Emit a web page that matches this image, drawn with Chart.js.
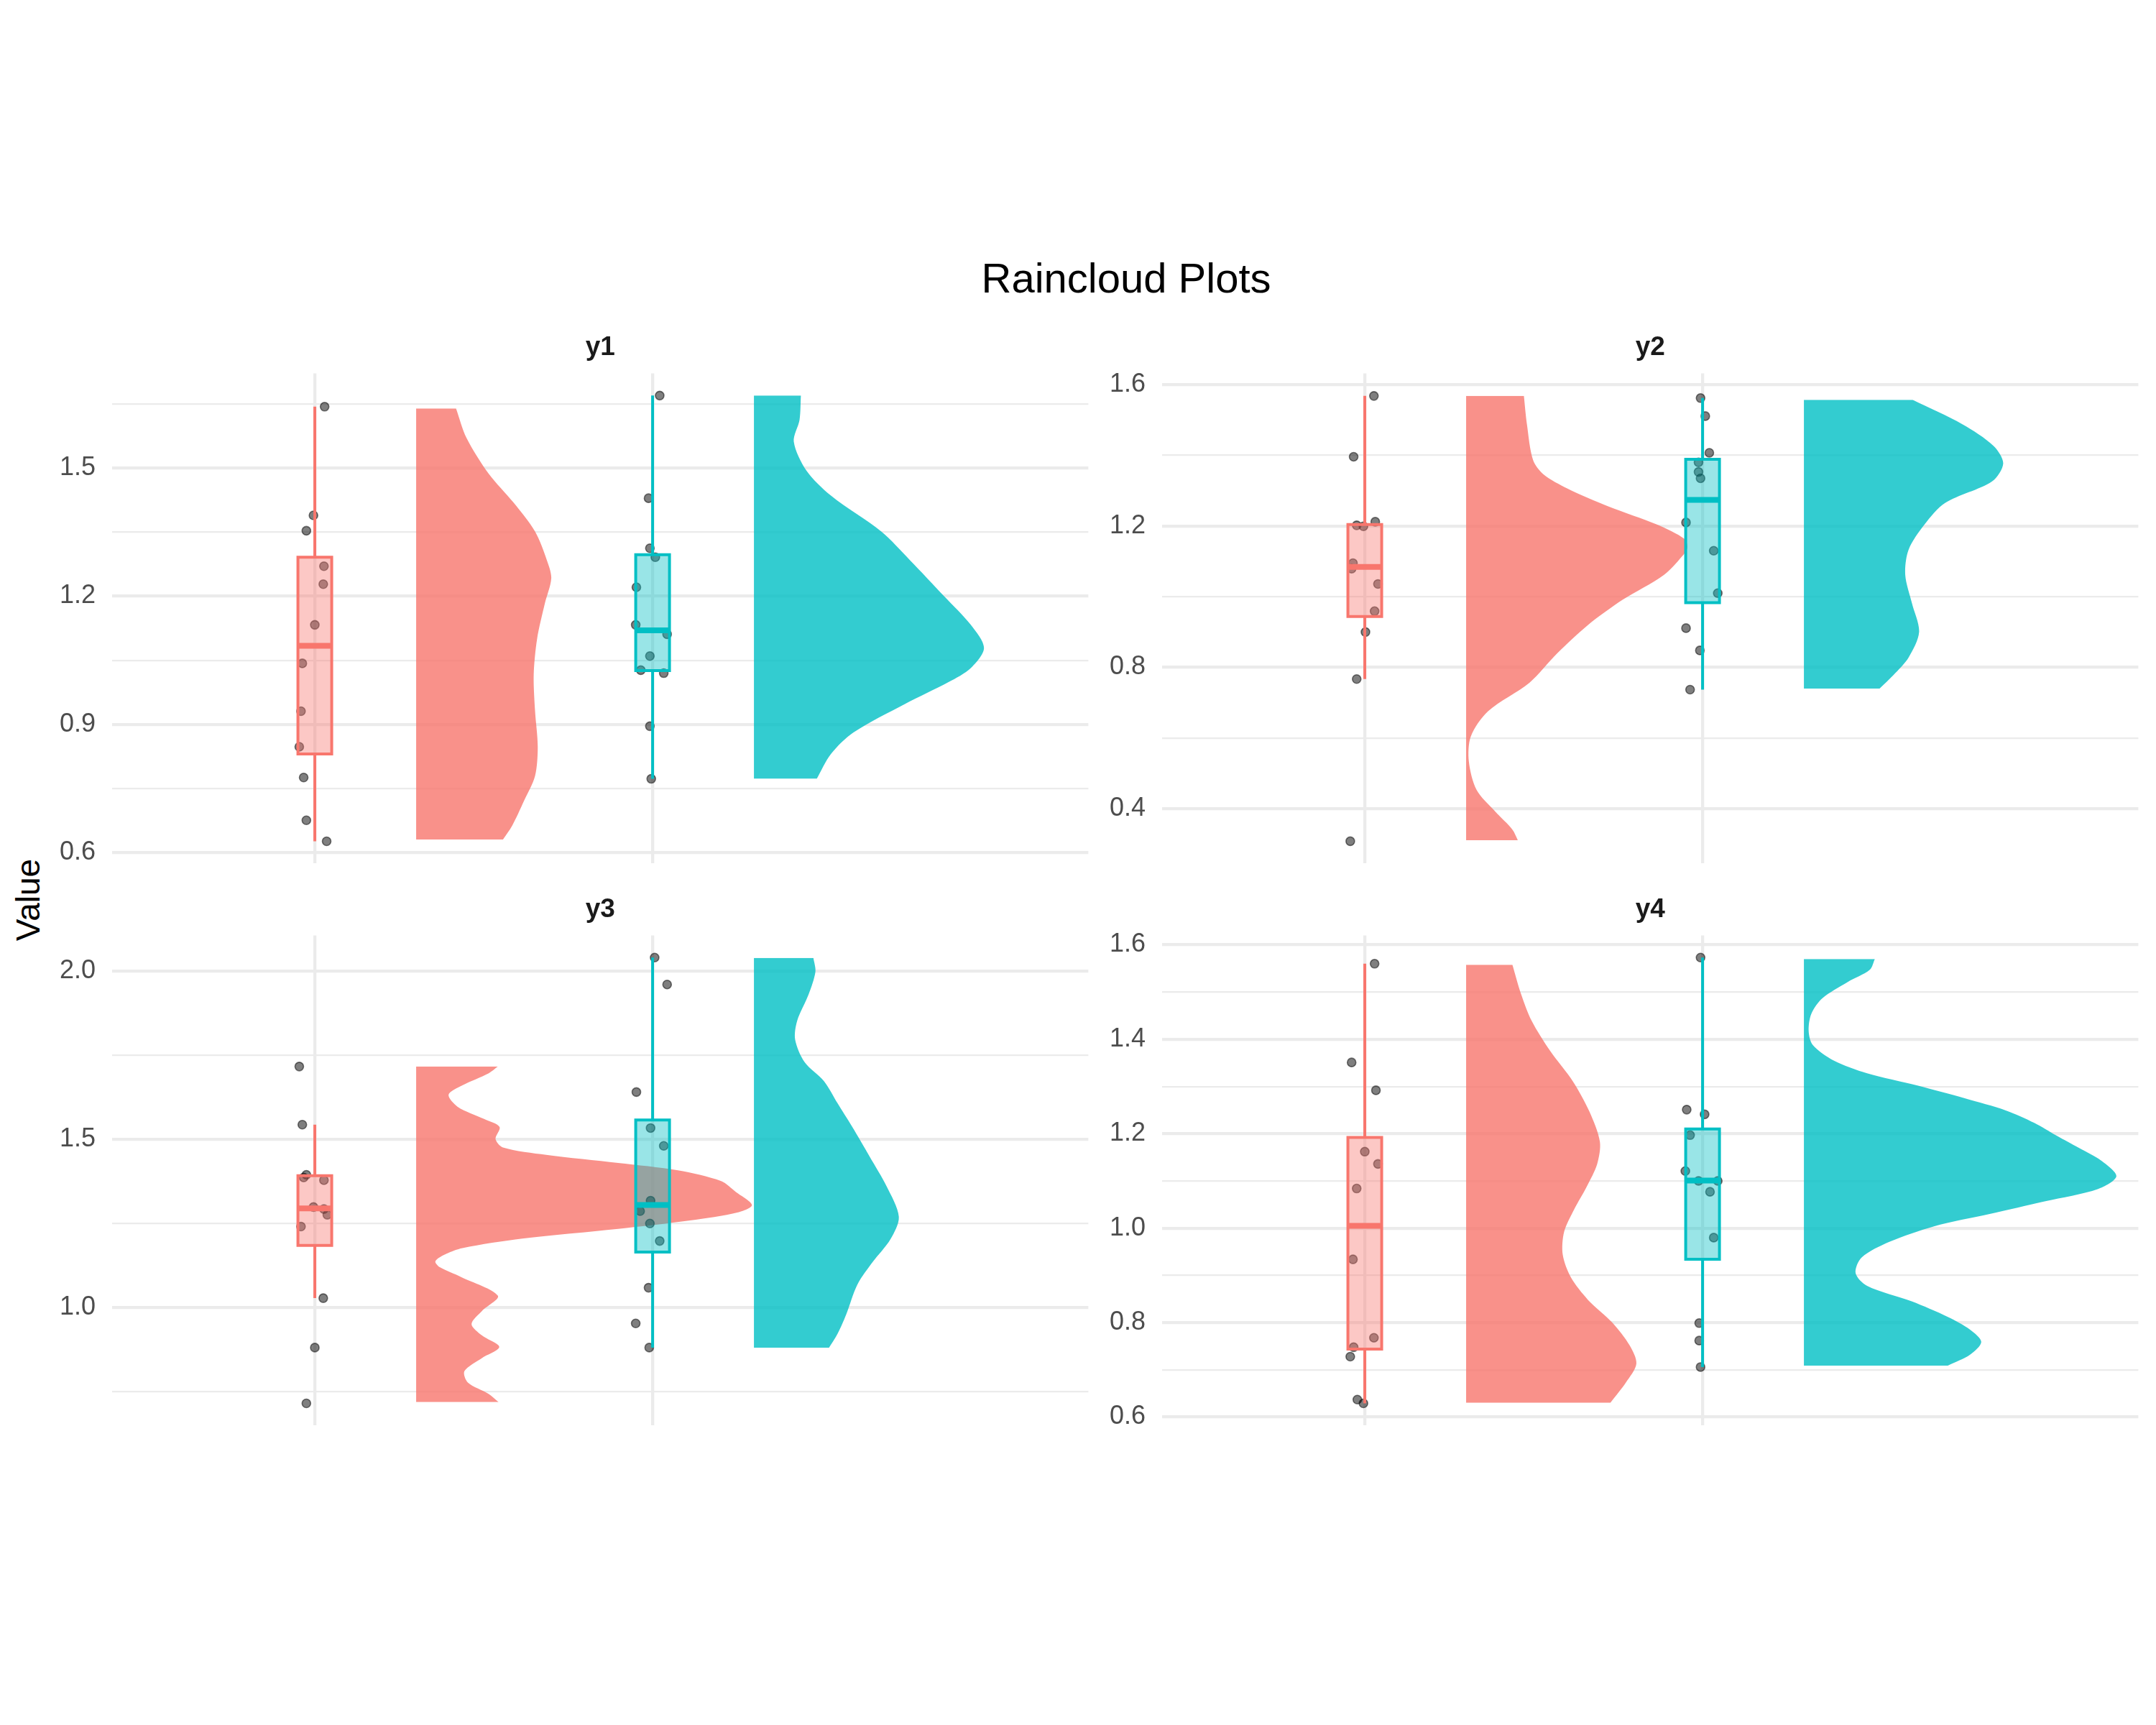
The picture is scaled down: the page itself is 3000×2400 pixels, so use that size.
<!DOCTYPE html>
<html><head><meta charset="utf-8">
<script src="https://cdn.jsdelivr.net/npm/chart.js@4.4.1/dist/chart.umd.min.js"></script>
<style>
html,body{margin:0;padding:0;background:#fff;}
body{width:3000px;height:2400px;position:relative;overflow:hidden;font-family:'Liberation Sans',Arial,Helvetica,sans-serif;}
canvas{position:absolute;left:0;top:0;}
#mainTitle{position:absolute;left:0;top:358px;width:3134px;text-align:center;font-size:58px;line-height:58px;color:#000;white-space:nowrap;}
#yTitle{position:absolute;left:39px;top:1252px;transform:translate(-50%,-50%) rotate(-90deg);font-size:46px;line-height:46px;color:#000;white-space:nowrap;}
</style></head>
<body>
<div id="mainTitle">Raincloud Plots</div>
<div id="yTitle">Value</div>
<script>
// ---------------- DATA ----------------
const panelNames = ['y1', 'y2', 'y3', 'y4'];
const groupNames = ['A', 'B'];

// y1
const y1Range = [0.575, 1.721];
const y1Major = [0.6, 0.9, 1.2, 1.5];
const y1Minor = [0.75, 1.05, 1.35, 1.65];
const y1RedValues = [1.643, 1.389, 1.353, 1.270, 1.228, 1.133, 1.043, 0.931, 0.848, 0.776, 0.676, 0.627];
const y1RedJitter = [1.029, 0.996, 0.975, 1.027, 1.025, 1.000, 0.963, 0.959, 0.954, 0.967, 0.975, 1.035];
const y1CyanValues = [1.669, 1.429, 1.312, 1.291, 1.221, 1.133, 1.111, 1.060, 1.027, 1.020, 0.896, 0.773];
const y1CyanJitter = [2.021, 1.988, 1.992, 2.008, 1.952, 1.950, 2.043, 1.992, 1.965, 2.033, 1.992, 1.996];
const y1RedBox = [0.627, 0.831, 1.084, 1.291, 1.643];   // lower whisker, q1, median, q3, upper whisker
const y1CyanBox = [0.773, 1.026, 1.120, 1.297, 1.669];
const y1RedViolinY = [0.631, 0.663, 0.721, 0.780, 0.848, 0.932, 1.016, 1.100, 1.183, 1.242, 1.284, 1.351, 1.419, 1.486, 1.570, 1.639];
const y1RedViolinW = [0.257, 0.284, 0.319, 0.352, 0.360, 0.352, 0.348, 0.358, 0.381, 0.400, 0.387, 0.352, 0.288, 0.215, 0.149, 0.118];
const y1CyanViolinY = [0.773, 0.831, 0.881, 0.948, 0.999, 1.032, 1.079, 1.133, 1.200, 1.284, 1.351, 1.435, 1.494, 1.561, 1.612, 1.669];
const y1CyanViolinW = [0.186, 0.228, 0.294, 0.447, 0.576, 0.642, 0.681, 0.642, 0.563, 0.462, 0.377, 0.228, 0.155, 0.118, 0.135, 0.139];

// y2
const y2Range = [0.245, 1.632];
const y2Major = [0.4, 0.8, 1.2, 1.6];
const y2Minor = [0.6, 1.0, 1.4];
const y2RedValues = [1.568, 1.396, 1.212, 1.202, 1.199, 1.095, 1.079, 1.036, 0.959, 0.900, 0.767, 0.308];
const y2RedJitter = [1.027, 0.967, 1.031, 0.976, 0.996, 0.965, 0.961, 1.039, 1.029, 1.002, 0.976, 0.957];
const y2CyanValues = [1.562, 1.511, 1.407, 1.380, 1.353, 1.335, 1.210, 1.130, 1.010, 0.911, 0.848, 0.737];
const y2CyanJitter = [1.994, 2.008, 2.020, 1.988, 1.988, 1.994, 1.951, 2.033, 2.045, 1.951, 1.992, 1.963];
const y2RedBox = [0.767, 0.944, 1.084, 1.204, 1.568];
const y2CyanBox = [0.737, 0.983, 1.274, 1.389, 1.562];
const y2RedViolinY = [0.311, 0.341, 0.392, 0.453, 0.534, 0.605, 0.676, 0.757, 0.839, 0.920, 0.991, 1.062, 1.123, 1.140, 1.163, 1.204, 1.255, 1.306, 1.346, 1.387, 1.488, 1.568];
const y2RedViolinW = [0.153, 0.137, 0.086, 0.031, 0.008, 0.014, 0.065, 0.188, 0.269, 0.361, 0.463, 0.586, 0.647, 0.655, 0.647, 0.565, 0.422, 0.300, 0.229, 0.198, 0.180, 0.171];
const y2CyanViolinY = [0.740, 0.778, 0.828, 0.900, 0.981, 1.062, 1.133, 1.204, 1.265, 1.326, 1.377, 1.427, 1.488, 1.557];
const y2CyanViolinW = [0.224, 0.265, 0.310, 0.341, 0.320, 0.300, 0.310, 0.357, 0.418, 0.557, 0.590, 0.561, 0.469, 0.322];

// y3
const y3Range = [0.649, 2.107];
const y3Major = [1.0, 1.5, 2.0];
const y3Minor = [0.75, 1.25, 1.75];
const y3RedValues = [1.717, 1.544, 1.395, 1.387, 1.379, 1.299, 1.293, 1.276, 1.241, 1.028, 0.881, 0.715];
const y3RedJitter = [0.954, 0.963, 0.975, 0.967, 1.027, 0.996, 1.027, 1.037, 0.959, 1.025, 1.000, 0.975];
const y3CyanValues = [2.041, 1.961, 1.641, 1.534, 1.481, 1.318, 1.287, 1.250, 1.198, 1.059, 0.953, 0.881];
const y3CyanJitter = [2.006, 2.043, 1.952, 1.994, 2.033, 1.994, 1.963, 1.992, 2.021, 1.988, 1.950, 1.990];
const y3RedBox = [1.028, 1.185, 1.295, 1.392, 1.544];
const y3CyanBox = [0.881, 1.165, 1.305, 1.558, 2.041];
const y3RedViolinY = [0.719, 0.743, 0.777, 0.811, 0.850, 0.883, 0.917, 0.951, 0.990, 1.035, 1.091, 1.120, 1.138, 1.160, 1.177, 1.205, 1.234, 1.259, 1.283, 1.305, 1.344, 1.376, 1.408, 1.430, 1.454, 1.476, 1.501, 1.537, 1.561, 1.597, 1.633, 1.661, 1.697, 1.717];
const y3RedViolinW = [0.244, 0.215, 0.153, 0.143, 0.195, 0.246, 0.195, 0.164, 0.195, 0.242, 0.133, 0.070, 0.057, 0.090, 0.137, 0.314, 0.598, 0.811, 0.953, 0.994, 0.946, 0.903, 0.775, 0.598, 0.385, 0.257, 0.235, 0.247, 0.201, 0.123, 0.096, 0.137, 0.215, 0.242];
const y3CyanViolinY = [0.880, 0.923, 0.979, 1.068, 1.136, 1.203, 1.270, 1.360, 1.450, 1.539, 1.607, 1.674, 1.730, 1.797, 1.853, 1.932, 1.999, 2.040];
const y3CyanViolinW = [0.222, 0.248, 0.273, 0.306, 0.352, 0.404, 0.429, 0.393, 0.342, 0.290, 0.248, 0.207, 0.150, 0.122, 0.128, 0.162, 0.182, 0.176];

// y4
const y4Range = [0.582, 1.620];
const y4Major = [0.6, 0.8, 1.0, 1.2, 1.4, 1.6];
const y4Minor = [0.7, 0.9, 1.1, 1.3, 1.5];
const y4RedValues = [1.560, 1.351, 1.292, 1.162, 1.136, 1.084, 0.934, 0.768, 0.748, 0.728, 0.637, 0.629];
const y4RedJitter = [1.029, 0.961, 1.033, 1.000, 1.039, 0.976, 0.965, 1.027, 0.967, 0.957, 0.978, 0.996];
const y4CyanValues = [1.573, 1.251, 1.241, 1.197, 1.121, 1.100, 1.100, 1.077, 0.980, 0.799, 0.762, 0.706];
const y4CyanJitter = [1.994, 1.953, 2.006, 1.963, 1.949, 1.988, 2.045, 2.022, 2.033, 1.990, 1.990, 1.994];
const y4RedBox = [0.629, 0.744, 1.005, 1.192, 1.560];
const y4CyanBox = [0.706, 0.934, 1.101, 1.210, 1.573];
const y4RedViolinY = [0.630, 0.673, 0.713, 0.752, 0.800, 0.848, 0.896, 0.944, 0.992, 1.040, 1.088, 1.136, 1.183, 1.247, 1.311, 1.375, 1.439, 1.495, 1.558];
const y4RedViolinW = [0.427, 0.473, 0.504, 0.484, 0.433, 0.361, 0.310, 0.286, 0.290, 0.320, 0.357, 0.388, 0.396, 0.365, 0.316, 0.249, 0.194, 0.163, 0.137];
const y4CyanViolinY = [0.709, 0.732, 0.759, 0.785, 0.812, 0.845, 0.878, 0.905, 0.938, 0.971, 1.004, 1.030, 1.057, 1.083, 1.110, 1.143, 1.170, 1.196, 1.223, 1.249, 1.275, 1.302, 1.328, 1.355, 1.388, 1.418, 1.454, 1.487, 1.521, 1.547, 1.570];
const y4CyanViolinW = [0.426, 0.492, 0.525, 0.492, 0.426, 0.319, 0.187, 0.153, 0.171, 0.253, 0.385, 0.550, 0.715, 0.871, 0.925, 0.880, 0.814, 0.748, 0.682, 0.599, 0.476, 0.336, 0.187, 0.088, 0.026, 0.014, 0.022, 0.055, 0.129, 0.195, 0.210];

// ---------------- STYLE / LAYOUT ----------------
const FONT = "'Liberation Sans', Arial, Helvetica, sans-serif";
Chart.defaults.font.family = FONT;
const COLORS = ['#F8766D', '#00BFC4'];
const BOX_FILL = ['rgba(248,118,109,0.4)', 'rgba(0,191,196,0.4)'];
const VIOLIN_FILL = ['rgba(248,118,109,0.8)', 'rgba(0,191,196,0.8)'];
const GROUP_X = [1, 2];
const NUDGE = 0.3, BOX_HALF = 0.05;
const X_MIN = 0.4, X_MAX = 3.29;
const GRID = '#EBEBEB';

const panels = [
  {name: panelNames[0], box: {left: 156, right: 1514, top: 519, bottom: 1201}, range: y1Range, major: y1Major, minor: y1Minor,
   groups: [{vals: y1RedValues, jit: y1RedJitter, stats: y1RedBox, vy: y1RedViolinY, vw: y1RedViolinW},
            {vals: y1CyanValues, jit: y1CyanJitter, stats: y1CyanBox, vy: y1CyanViolinY, vw: y1CyanViolinW}]},
  {name: panelNames[1], box: {left: 1617, right: 2975, top: 519, bottom: 1201}, range: y2Range, major: y2Major, minor: y2Minor,
   groups: [{vals: y2RedValues, jit: y2RedJitter, stats: y2RedBox, vy: y2RedViolinY, vw: y2RedViolinW},
            {vals: y2CyanValues, jit: y2CyanJitter, stats: y2CyanBox, vy: y2CyanViolinY, vw: y2CyanViolinW}]},
  {name: panelNames[2], box: {left: 156, right: 1514, top: 1301, bottom: 1983}, range: y3Range, major: y3Major, minor: y3Minor,
   groups: [{vals: y3RedValues, jit: y3RedJitter, stats: y3RedBox, vy: y3RedViolinY, vw: y3RedViolinW},
            {vals: y3CyanValues, jit: y3CyanJitter, stats: y3CyanBox, vy: y3CyanViolinY, vw: y3CyanViolinW}]},
  {name: panelNames[3], box: {left: 1617, right: 2975, top: 1301, bottom: 1983}, range: y4Range, major: y4Major, minor: y4Minor,
   groups: [{vals: y4RedValues, jit: y4RedJitter, stats: y4RedBox, vy: y4RedViolinY, vw: y4RedViolinW},
            {vals: y4CyanValues, jit: y4CyanJitter, stats: y4CyanBox, vy: y4CyanViolinY, vw: y4CyanViolinW}]}
];

function isIn(list, v) { return list.some(m => Math.abs(m - v) < 1e-9); }

function buildDatasets(p) {
  const ds = [];
  p.groups.forEach((g, gi) => {
    const x0 = GROUP_X[gi];
    const base = x0 + NUDGE;
    const c = COLORS[gi];
    // half violin (cloud)
    ds.push({type: 'line', indexAxis: 'y', order: 5, label: groupNames[gi] + ' violin',
      data: g.vy.map((y, i) => ({x: base + g.vw[i], y: y})),
      borderWidth: 0, borderColor: 'rgba(0,0,0,0)', pointRadius: 0, tension: 0.3,
      backgroundColor: VIOLIN_FILL[gi], fill: {value: base}});
    // rain (jittered points)
    ds.push({type: 'scatter', order: 4, label: groupNames[gi] + ' points',
      data: g.vals.map((v, i) => ({x: g.jit[i], y: v})),
      pointRadius: 6, pointHoverRadius: 6, borderWidth: 1.6,
      backgroundColor: 'rgba(0,0,0,0.5)', borderColor: 'rgba(0,0,0,0.5)'});
    const [lo, q1, med, q3, hi] = g.stats;
    // whiskers
    ds.push({type: 'line', order: 3, data: [{x: x0, y: lo}, {x: x0, y: q1}], borderColor: c, borderWidth: 4, pointRadius: 0, fill: false});
    ds.push({type: 'line', order: 3, data: [{x: x0, y: q3}, {x: x0, y: hi}], borderColor: c, borderWidth: 4, pointRadius: 0, fill: false});
    // box
    ds.push({type: 'line', order: 2,
      data: [{x: x0 - BOX_HALF, y: q1}, {x: x0 + BOX_HALF, y: q1}, {x: x0 + BOX_HALF, y: q3}, {x: x0 - BOX_HALF, y: q3}, {x: x0 - BOX_HALF, y: q1}, {x: x0 + BOX_HALF, y: q1}],
      borderColor: c, borderWidth: 4, pointRadius: 0, tension: 0, borderJoinStyle: 'miter',
      backgroundColor: BOX_FILL[gi], fill: 'shape'});
    // median
    ds.push({type: 'line', order: 1, data: [{x: x0 - BOX_HALF, y: med}, {x: x0 + BOX_HALF, y: med}],
      borderColor: c, borderWidth: 8, pointRadius: 0, fill: false});
  });
  return ds;
}

function place(chart, box) {
  const cv = chart.canvas;
  for (let k = 0; k < 3; k++) {
    const ca = chart.chartArea, W = chart.width, H = chart.height;
    const l = ca.left, t = ca.top, r = W - ca.right, b = H - ca.bottom;
    cv.style.left = (box.left - l) + 'px';
    cv.style.top = (box.top - t) + 'px';
    chart.resize(Math.round(l + (box.right - box.left) + r), Math.round(t + (box.bottom - box.top) + b));
  }
}

panels.forEach(p => {
  const cv = document.createElement('canvas');
  cv.width = 1500; cv.height = 800;
  document.body.appendChild(cv);
  const allTicks = p.major.concat(p.minor).sort((a, b) => a - b);
  const chart = new Chart(cv, {
    type: 'scatter',
    data: {datasets: buildDatasets(p)},
    options: {
      responsive: false, maintainAspectRatio: false, animation: false, devicePixelRatio: 1,
      events: [],
      layout: {padding: 0},
      plugins: {
        legend: {display: false}, tooltip: {enabled: false},
        title: {display: true, text: p.name, fullSize: false, align: 'center', color: '#1A1A1A',
                font: {family: FONT, size: 37, weight: 'bold'}, padding: {top: 10, bottom: 13}}
      },
      scales: {
        x: {type: 'linear', position: 'bottom', min: X_MIN, max: X_MAX,
            afterBuildTicks: s => { s.ticks = GROUP_X.map(v => ({value: v})); },
            ticks: {display: false},
            grid: {color: GRID, lineWidth: 4.3, drawTicks: false},
            border: {display: false}},
        y: {type: 'linear', position: 'left', min: p.range[0], max: p.range[1],
            afterBuildTicks: s => { s.ticks = allTicks.map(v => ({value: v})); },
            ticks: {autoSkip: false, padding: 23, color: '#4D4D4D', font: {family: FONT, size: 36},
                    callback: v => isIn(p.major, v) ? v.toFixed(1) : ''},
            grid: {color: GRID, drawTicks: false,
                   lineWidth: ctx => (ctx.tick && isIn(p.major, ctx.tick.value)) ? 4.3 : 2.2},
            border: {display: false}}
      }
    }
  });
  place(chart, p.box);
});
</script>
</body></html>
